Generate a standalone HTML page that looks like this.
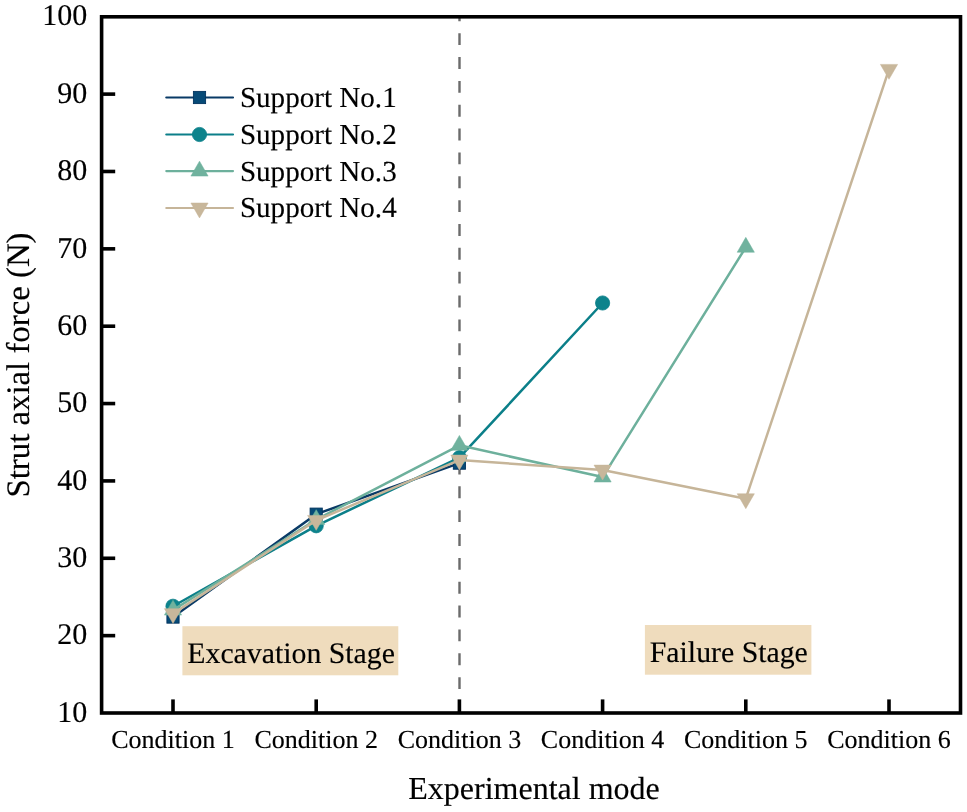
<!DOCTYPE html>
<html><head><meta charset="utf-8"><style>
html,body{margin:0;padding:0;background:#fff;}
body{width:967px;height:812px;overflow:hidden;}
svg{display:block;text-rendering:geometricPrecision;}
text{stroke:#000;stroke-width:0.15px;font-family:"Liberation Serif","Times New Roman",serif;}
</style></head><body>
<svg width="967" height="812" viewBox="0 0 967 812">
<rect width="967" height="812" fill="#fff"/>
<rect x="182.4" y="626.2" width="215.9" height="49.1" fill="#efdcbd"/>
<rect x="644.9" y="625" width="166.5" height="49.7" fill="#efdcbd"/>
<text x="187.3" y="663.2" font-size="29.8">Excavation Stage</text>
<text x="649.8" y="662.3" font-size="29.8">Failure Stage</text>
<line x1="459.5" y1="17" x2="459.5" y2="713" stroke="#6b6b6b" stroke-width="2.4" stroke-dasharray="11.9 11.95" stroke-dashoffset="7.65"/>
<polyline points="173.00,617.07 316.20,514.18 459.40,463.13" fill="none" stroke="#093a66" stroke-width="2.5" stroke-linejoin="round"/>
<rect x="166.90" y="610.97" width="12.2" height="12.2" fill="#064a77" stroke="#03335e" stroke-width="0.9"/>
<rect x="310.10" y="508.08" width="12.2" height="12.2" fill="#064a77" stroke="#03335e" stroke-width="0.9"/>
<rect x="453.30" y="457.03" width="12.2" height="12.2" fill="#064a77" stroke="#03335e" stroke-width="0.9"/>
<polyline points="173.00,606.24 316.20,525.79 459.40,457.71 602.60,302.99" fill="none" stroke="#0b7f89" stroke-width="2.5" stroke-linejoin="round"/>
<circle cx="173.00" cy="606.24" r="7.1" fill="#0d838c" stroke="#0b7f89" stroke-width="0.8"/>
<circle cx="316.20" cy="525.79" r="7.1" fill="#0d838c" stroke="#0b7f89" stroke-width="0.8"/>
<circle cx="459.40" cy="457.71" r="7.1" fill="#0d838c" stroke="#0b7f89" stroke-width="0.8"/>
<circle cx="602.60" cy="302.99" r="7.1" fill="#0d838c" stroke="#0b7f89" stroke-width="0.8"/>
<polyline points="173.00,610.11 316.20,519.60 459.40,445.33 602.60,477.05 745.80,247.29" fill="none" stroke="#6db09c" stroke-width="2.5" stroke-linejoin="round"/>
<path d="M173.00 600.18L181.60 615.08L164.40 615.08Z" fill="#70b29e" stroke="#6db09c" stroke-width="0.5" stroke-linejoin="miter"/>
<path d="M316.20 509.67L324.80 524.57L307.60 524.57Z" fill="#70b29e" stroke="#6db09c" stroke-width="0.5" stroke-linejoin="miter"/>
<path d="M459.40 435.40L468.00 450.30L450.80 450.30Z" fill="#70b29e" stroke="#6db09c" stroke-width="0.5" stroke-linejoin="miter"/>
<path d="M602.60 467.12L611.20 482.02L594.00 482.02Z" fill="#70b29e" stroke="#6db09c" stroke-width="0.5" stroke-linejoin="miter"/>
<path d="M745.80 237.36L754.40 252.26L737.20 252.26Z" fill="#70b29e" stroke="#6db09c" stroke-width="0.5" stroke-linejoin="miter"/>
<polyline points="173.00,613.59 316.20,520.37 459.40,460.03 602.60,470.09 745.80,498.71 889.00,69.36" fill="none" stroke="#c6b599" stroke-width="2.5" stroke-linejoin="round"/>
<path d="M164.40 608.63L181.60 608.63L173.00 623.52Z" fill="#c8b79b" stroke="#c6b599" stroke-width="0.5" stroke-linejoin="miter"/>
<path d="M307.60 515.41L324.80 515.41L316.20 530.30Z" fill="#c8b79b" stroke="#c6b599" stroke-width="0.5" stroke-linejoin="miter"/>
<path d="M450.80 455.07L468.00 455.07L459.40 469.96Z" fill="#c8b79b" stroke="#c6b599" stroke-width="0.5" stroke-linejoin="miter"/>
<path d="M594.00 465.12L611.20 465.12L602.60 480.02Z" fill="#c8b79b" stroke="#c6b599" stroke-width="0.5" stroke-linejoin="miter"/>
<path d="M737.20 493.75L754.40 493.75L745.80 508.64Z" fill="#c8b79b" stroke="#c6b599" stroke-width="0.5" stroke-linejoin="miter"/>
<path d="M880.40 64.40L897.60 64.40L889.00 79.30Z" fill="#c8b79b" stroke="#c6b599" stroke-width="0.5" stroke-linejoin="miter"/>
<line x1="166.3" y1="97.5" x2="233" y2="97.5" stroke="#093a66" stroke-width="2.2" stroke-linecap="round"/>
<rect x="193.40" y="91.40" width="12.2" height="12.2" fill="#064a77" stroke="#03335e" stroke-width="0.9"/>
<text x="239.9" y="106.9" font-size="29.1">Support No.1</text>
<line x1="166.3" y1="134.5" x2="233" y2="134.5" stroke="#0b7f89" stroke-width="2.2" stroke-linecap="round"/>
<circle cx="199.50" cy="134.50" r="7.1" fill="#0d838c" stroke="#0b7f89" stroke-width="0.8"/>
<text x="239.9" y="143.9" font-size="29.1">Support No.2</text>
<line x1="166.3" y1="171.1" x2="233" y2="171.1" stroke="#6db09c" stroke-width="2.2" stroke-linecap="round"/>
<path d="M199.50 161.17L208.10 176.07L190.90 176.07Z" fill="#70b29e" stroke="#6db09c" stroke-width="0.5" stroke-linejoin="miter"/>
<text x="239.9" y="180.5" font-size="29.1">Support No.3</text>
<line x1="166.3" y1="208.0" x2="233" y2="208.0" stroke="#c6b599" stroke-width="2.2" stroke-linecap="round"/>
<path d="M190.90 203.03L208.10 203.03L199.50 217.93Z" fill="#c8b79b" stroke="#c6b599" stroke-width="0.5" stroke-linejoin="miter"/>
<text x="239.9" y="217.4" font-size="29.1">Support No.4</text>
<rect x="101.6" y="16.8" width="858.9" height="696.2" fill="none" stroke="#000" stroke-width="3.6"/>
<text x="87.2" y="721.70" font-size="30" text-anchor="end">10</text>
<line x1="101.6" y1="635.64" x2="115.2" y2="635.64" stroke="#000" stroke-width="3.6"/>
<text x="87.2" y="644.34" font-size="30" text-anchor="end">20</text>
<line x1="101.6" y1="558.28" x2="115.2" y2="558.28" stroke="#000" stroke-width="3.6"/>
<text x="87.2" y="566.98" font-size="30" text-anchor="end">30</text>
<line x1="101.6" y1="480.92" x2="115.2" y2="480.92" stroke="#000" stroke-width="3.6"/>
<text x="87.2" y="489.62" font-size="30" text-anchor="end">40</text>
<line x1="101.6" y1="403.56" x2="115.2" y2="403.56" stroke="#000" stroke-width="3.6"/>
<text x="87.2" y="412.26" font-size="30" text-anchor="end">50</text>
<line x1="101.6" y1="326.20" x2="115.2" y2="326.20" stroke="#000" stroke-width="3.6"/>
<text x="87.2" y="334.90" font-size="30" text-anchor="end">60</text>
<line x1="101.6" y1="248.84" x2="115.2" y2="248.84" stroke="#000" stroke-width="3.6"/>
<text x="87.2" y="257.54" font-size="30" text-anchor="end">70</text>
<line x1="101.6" y1="171.48" x2="115.2" y2="171.48" stroke="#000" stroke-width="3.6"/>
<text x="87.2" y="180.18" font-size="30" text-anchor="end">80</text>
<line x1="101.6" y1="94.12" x2="115.2" y2="94.12" stroke="#000" stroke-width="3.6"/>
<text x="87.2" y="102.82" font-size="30" text-anchor="end">90</text>
<text x="87.2" y="25.46" font-size="30" text-anchor="end">100</text>
<line x1="173.00" y1="713" x2="173.00" y2="699.4" stroke="#000" stroke-width="3.6"/>
<text x="173.00" y="747.6" font-size="26" text-anchor="middle">Condition 1</text>
<line x1="316.20" y1="713" x2="316.20" y2="699.4" stroke="#000" stroke-width="3.6"/>
<text x="316.20" y="747.6" font-size="26" text-anchor="middle">Condition 2</text>
<line x1="459.40" y1="713" x2="459.40" y2="699.4" stroke="#000" stroke-width="3.6"/>
<text x="459.40" y="747.6" font-size="26" text-anchor="middle">Condition 3</text>
<line x1="602.60" y1="713" x2="602.60" y2="699.4" stroke="#000" stroke-width="3.6"/>
<text x="602.60" y="747.6" font-size="26" text-anchor="middle">Condition 4</text>
<line x1="745.80" y1="713" x2="745.80" y2="699.4" stroke="#000" stroke-width="3.6"/>
<text x="745.80" y="747.6" font-size="26" text-anchor="middle">Condition 5</text>
<line x1="889.00" y1="713" x2="889.00" y2="699.4" stroke="#000" stroke-width="3.6"/>
<text x="889.00" y="747.6" font-size="26" text-anchor="middle">Condition 6</text>
<text x="534" y="798.7" font-size="32" text-anchor="middle">Experimental mode</text>
<text transform="translate(28.6 365) rotate(-90)" font-size="32.8" text-anchor="middle">Strut axial force (N)</text>
</svg>
</body></html>
